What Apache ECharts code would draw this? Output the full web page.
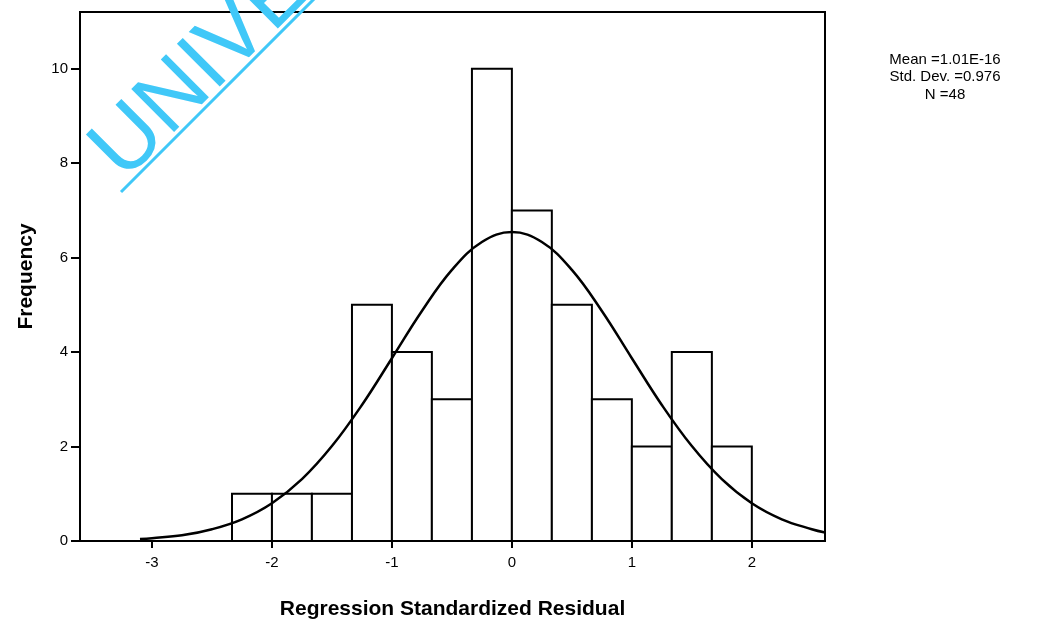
<!DOCTYPE html>
<html>
<head>
<meta charset="utf-8">
<script src="https://cdn.jsdelivr.net/npm/echarts@6.0.0/dist/echarts.min.js"></script>
<style>
  html, body { margin: 0; padding: 0; background: #fff; }
  #chart { width: 1039px; height: 625px; }
</style>
</head>
<body>
<div id="chart"></div>
<script>
// histogram bins (left edge, right edge) and frequencies
var binLeft  = [-2.333, -2.0, -1.667, -1.333, -1.0, -0.667, -0.333, 0.0, 0.333, 0.667, 1.0, 1.333, 1.667]
var binRight = [-2.0, -1.667, -1.333, -1.0, -0.667, -0.333, 0.0, 0.333, 0.667, 1.0, 1.333, 1.667, 2.0]
var counts   = [1, 1, 1, 5, 4, 3, 10, 7, 5, 3, 2, 4, 2]

// normal curve
var curveX = [-3.1, -3.0, -2.75, -2.5, -2.25, -2.0, -1.75, -1.5, -1.25, -1.0, -0.75, -0.5, -0.25, 0,
              0.25, 0.5, 0.75, 1.0, 1.25, 1.5, 1.75, 2.0, 2.25, 2.5, 2.61]
var curveY = [0.04, 0.06, 0.12, 0.25, 0.46, 0.80, 1.31, 2.01, 2.88, 3.87, 4.87, 5.74, 6.33, 6.54,
              6.33, 5.74, 4.87, 3.87, 2.88, 2.01, 1.31, 0.80, 0.46, 0.25, 0.18]

var xTicks = [-3, -2, -1, 0, 1, 2]
var yTicks = [0, 2, 4, 6, 8, 10]
var statLines = ['Mean =1.01E-16', 'Std. Dev. =0.976', 'N =48']

var font = 'Liberation Sans, Arial, sans-serif'
var myChart = echarts.init(document.getElementById('chart'))

var bins = binLeft.map(function (l, i) { return [l, binRight[i], counts[i]] })
var curve = curveX.map(function (x, i) { return [x, curveY[i]] })

myChart.setOption({
    animation: false,
    backgroundColor: '#fff',
    grid: {
        left: 80, right: 214, top: 12, bottom: 84,
        containLabel: false, outerBoundsMode: 'none',
        show: true, borderColor: '#000', borderWidth: 2, backgroundColor: 'transparent'
    },
    xAxis: {
        type: 'value', min: -3.6, max: 2.61,
        name: 'Regression Standardized Residual',
        nameLocation: 'middle', nameGap: 58,
        nameTextStyle: { color: '#000', fontFamily: font, fontWeight: 'bold', fontSize: 21 },
        axisLine: { show: true, onZero: false, lineStyle: { color: '#000', width: 2 } },
        axisTick: { show: true, length: 7, customValues: xTicks, lineStyle: { color: '#000', width: 2 } },
        axisLabel: { customValues: xTicks, color: '#000', fontFamily: font, fontSize: 15, margin: 14 },
        splitLine: { show: false }
    },
    yAxis: {
        type: 'value', min: 0, max: 11.2,
        name: 'Frequency',
        nameLocation: 'middle', nameGap: 43,
        nameTextStyle: { color: '#000', fontFamily: font, fontWeight: 'bold', fontSize: 21 },
        axisLine: { show: true, onZero: false, lineStyle: { color: '#000', width: 2 } },
        axisTick: { show: true, length: 9, customValues: yTicks, lineStyle: { color: '#000', width: 2 } },
        axisLabel: { customValues: yTicks, color: '#000', fontFamily: font, fontSize: 15, margin: 12 },
        splitLine: { show: false }
    },
    series: [{
        type: 'custom',
        name: 'hist',
        data: bins,
        encode: { x: [0, 1], y: 2 },
        renderItem: function (params, api) {
            var p0 = api.coord([api.value(0), api.value(2)])
            var p1 = api.coord([api.value(1), 0])
            return {
                type: 'rect',
                shape: { x: p0[0], y: p0[1], width: p1[0] - p0[0], height: p1[1] - p0[1] },
                style: { fill: '#fff', stroke: '#000', lineWidth: 2 }
            }
        },
        z: 2
    }, {
        type: 'line',
        name: 'normal',
        data: curve,
        smooth: 0.4,
        showSymbol: false,
        lineStyle: { color: '#000', width: 2.5 },
        z: 3
    }],
    graphic: [
        {
            type: 'text', x: 945, y: 60, z: 10,
            style: { text: statLines[0], textAlign: 'center', textVerticalAlign: 'middle', fill: '#000', font: '15px ' + font }
        },
        {
            type: 'text', x: 945, y: 77, z: 10,
            style: { text: statLines[1], textAlign: 'center', textVerticalAlign: 'middle', fill: '#000', font: '15px ' + font }
        },
        {
            type: 'text', x: 945, y: 95, z: 10,
            style: { text: statLines[2], textAlign: 'center', textVerticalAlign: 'middle', fill: '#000', font: '15px ' + font }
        },
        // watermark
        {
            type: 'text', x: 138, y: 196, rotation: Math.PI / 4, z: 20,
            style: { text: 'UNIVE', textAlign: 'left', textVerticalAlign: 'bottom', fill: '#40c8f8', font: '88px ' + font }
        },
        {
            type: 'line', z: 20,
            shape: { x1: 121, y1: 192, x2: 320, y2: -7 },
            style: { stroke: '#40c8f8', lineWidth: 3 }
        }
    ]
})
</script>
</body>
</html>
